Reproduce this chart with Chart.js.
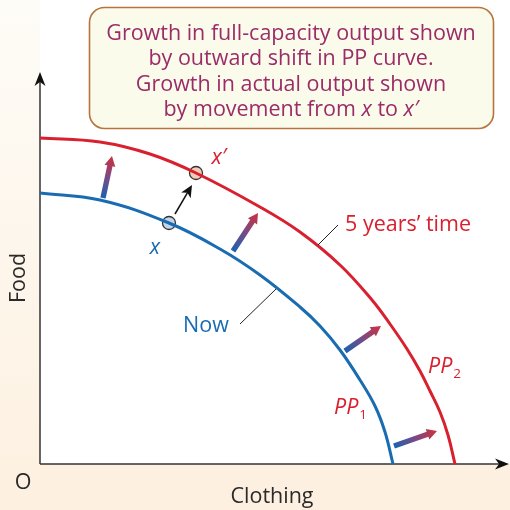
<!DOCTYPE html>
<html><head><meta charset="utf-8">
<script src="https://cdn.jsdelivr.net/npm/chart.js@4"></script>
<style>html,body{margin:0;padding:0;background:#fff}#wrap{width:510px;height:510px;position:relative}</style>
</head><body><div id="wrap"><canvas id="c" width="510" height="510"></canvas></div>
<script>
// ---- data (units: arbitrary quantity of clothing / food) ----
const pp1Clothing = [0, 60, 129, 180, 220, 260, 280, 300, 320, 335, 345, 353];
const pp1Food     = [271, 264, 241, 215, 189, 157, 138, 114, 84, 58, 32, 0];
const pp2Clothing = [0, 60, 110, 156, 220, 260, 300, 332, 350, 367, 380, 390, 400, 408, 415];
const pp2Food     = [326, 322, 310, 291, 257, 232, 199, 164, 140, 115, 93, 73, 52, 29, 0];
const pointNames    = ["x", "x′"];
const pointClothing = [129, 156];
const pointFood     = [241, 291];
const shiftFromClothing = [63, 193, 305, 354];
const shiftFromFood     = [266, 213, 113, 18];
const shiftToClothing   = [72, 218, 341, 397];
const shiftToFood       = [308, 251, 138, 33];
const moveFrom = [135, 250];
const moveTo   = [152, 279];
const axisTitles = ["Clothing", "Food", "O"];
const curveNames = ["Now", "5 years’ time", "PP", "1", "2"];
const boxLines = ["Growth in full-capacity output shown", "by outward shift in PP curve.", "Growth in actual output shown"];
const boxLastLine = [["by movement from ", false], ["x", true], [" to ", false], ["x′", true]];

const BLUE = "#1a6cb2", RED = "#d9202e", MAROON = "#9b2c68", DARK = "#2a2a2a";
const FONT = "'Open Sans', 'Noto Sans', sans-serif";
const FS = "21.5px ";

function pts(xs, ys){ return xs.map((x,i)=>({x:x, y:ys[i]})); }

function gradArrow(ctx, x1, y1, x2, y2){
  const dx = x2-x1, dy = y2-y1, L = Math.hypot(dx,dy), a = Math.atan2(dy,dx);
  const hl = 10, hw = 5.5, sw = 2.7;
  const g = ctx.createLinearGradient(x1,y1,x2,y2);
  g.addColorStop(0, "#1a62ae"); g.addColorStop(0.5, "#7a4a86"); g.addColorStop(1, "#d0303b");
  ctx.save(); ctx.translate(x1,y1); ctx.rotate(a);
  ctx.beginPath();
  ctx.moveTo(0,-sw); ctx.lineTo(L-hl,-sw); ctx.lineTo(L-hl,-hw); ctx.lineTo(L,0);
  ctx.lineTo(L-hl,hw); ctx.lineTo(L-hl,sw); ctx.lineTo(0,sw); ctx.closePath();
  ctx.restore();
  ctx.fillStyle = g; ctx.fill();
}
function blackArrow(ctx, x1,y1,x2,y2){
  const a = Math.atan2(y2-y1,x2-x1), L = Math.hypot(x2-x1,y2-y1);
  ctx.save(); ctx.translate(x1,y1); ctx.rotate(a);
  ctx.strokeStyle = "#111"; ctx.lineWidth = 1.5;
  ctx.beginPath(); ctx.moveTo(0,0); ctx.lineTo(L-8,0); ctx.stroke();
  ctx.fillStyle = "#111";
  ctx.beginPath(); ctx.moveTo(L,0); ctx.lineTo(L-12,-5.5); ctx.lineTo(L-9,0); ctx.lineTo(L-12,5.5); ctx.closePath(); ctx.fill();
  ctx.restore();
}

const deco = {
  id: "deco",
  beforeDraw(chart){
    const ctx = chart.ctx, a = chart.chartArea;
    ctx.save();
    ctx.fillStyle = "#ffffff"; ctx.fillRect(0,0,510,510);
    const g = ctx.createLinearGradient(0,0,0,510);
    g.addColorStop(0,"#fefcf7"); g.addColorStop(1,"#fdf0e0");
    ctx.fillStyle = g; ctx.fillRect(0,0,a.left,510);
    ctx.fillStyle = "#fdf0e0"; ctx.fillRect(a.left,a.bottom,510-a.left,510-a.bottom);
    ctx.restore();
  },
  beforeDatasetsDraw(chart){
    const ctx = chart.ctx, a = chart.chartArea, xs = chart.scales.x, ys = chart.scales.y;
    ctx.save();
    ctx.strokeStyle = "#333"; ctx.lineWidth = 1.5;
    ctx.beginPath(); ctx.moveTo(a.left, a.bottom); ctx.lineTo(a.left, a.top+8); ctx.stroke();
    ctx.beginPath(); ctx.moveTo(a.left, a.bottom); ctx.lineTo(a.right-6, a.bottom); ctx.stroke();
    ctx.fillStyle = "#111";
    ctx.beginPath(); ctx.moveTo(a.left, a.top); ctx.lineTo(a.left-5.5, a.top+14); ctx.lineTo(a.left, a.top+10); ctx.lineTo(a.left+5.5, a.top+14); ctx.closePath(); ctx.fill();
    ctx.beginPath(); ctx.moveTo(a.right+1, a.bottom); ctx.lineTo(a.right-13, a.bottom-5.5); ctx.lineTo(a.right-9, a.bottom); ctx.lineTo(a.right-13, a.bottom+5.5); ctx.closePath(); ctx.fill();
    for (let i=0;i<shiftFromClothing.length;i++){
      gradArrow(ctx, xs.getPixelForValue(shiftFromClothing[i]), ys.getPixelForValue(shiftFromFood[i]),
                     xs.getPixelForValue(shiftToClothing[i]), ys.getPixelForValue(shiftToFood[i]));
    }
    blackArrow(ctx, xs.getPixelForValue(moveFrom[0]), ys.getPixelForValue(moveFrom[1]),
                    xs.getPixelForValue(moveTo[0]), ys.getPixelForValue(moveTo[1]));
    ctx.restore();
  },
  afterDraw(chart){
    const ctx = chart.ctx;
    ctx.save();
    ctx.beginPath(); ctx.roundRect(89.5, 7.5, 404, 121, 15);
    ctx.fillStyle = "#fbfbec"; ctx.fill();
    ctx.strokeStyle = "#b8743f"; ctx.lineWidth = 1.6; ctx.stroke();
    ctx.textAlign = "center"; ctx.textBaseline = "middle";
    ctx.fillStyle = MAROON; ctx.font = FS + FONT;
    const cx = 291, ly = [33.5, 59, 84.5, 110];
    boxLines.forEach((t,i)=> ctx.fillText(t, cx, ly[i]));
    ctx.textAlign = "left";
    let tw = 0;
    boxLastLine.forEach(([t,it])=>{ ctx.font = (it?"italic ":"") + FS + FONT; tw += ctx.measureText(t).width; });
    let sx = cx - tw/2;
    boxLastLine.forEach(([t,it])=>{ ctx.font = (it?"italic ":"") + FS + FONT; ctx.fillText(t, sx, ly[3]); sx += ctx.measureText(t).width; });
    ctx.fillStyle = DARK; ctx.font = FS + FONT; ctx.textAlign = "center";
    ctx.fillText(axisTitles[0], 272, 497);
    ctx.fillText(axisTitles[2], 23, 483);
    ctx.save(); ctx.translate(19, 278); ctx.rotate(-Math.PI/2); ctx.fillText(axisTitles[1], 0, 0); ctx.restore();
    ctx.strokeStyle = "#222"; ctx.lineWidth = 1;
    ctx.beginPath(); ctx.moveTo(240,324); ctx.lineTo(276,289); ctx.stroke();
    ctx.beginPath(); ctx.moveTo(318,245); ctx.lineTo(338,225); ctx.stroke();
    ctx.fillStyle = BLUE; ctx.font = FS + FONT; ctx.textAlign = "center";
    ctx.fillText(curveNames[0], 206, 326);
    ctx.fillStyle = RED; ctx.textAlign = "left";
    ctx.fillText(curveNames[1], 345, 225);
    ctx.font = "italic " + FS + FONT; ctx.textAlign = "center";
    ctx.fillStyle = BLUE; ctx.fillText(pointNames[0], 155, 248);
    ctx.fillStyle = RED; ctx.fillText(pointNames[1], 219, 158);
    ctx.textAlign = "left"; ctx.textBaseline = "alphabetic";
    ctx.fillStyle = RED;
    ctx.font = "italic " + FS + FONT; ctx.fillText(curveNames[2], 334, 414);
    let w = ctx.measureText(curveNames[2]).width;
    ctx.font = "13.5px " + FONT; ctx.fillText(curveNames[3], 334 + w + 1, 419);
    ctx.font = "italic " + FS + FONT; ctx.fillText(curveNames[2], 428, 373);
    w = ctx.measureText(curveNames[2]).width;
    ctx.font = "13.5px " + FONT; ctx.fillText(curveNames[4], 428 + w + 1, 378);
    ctx.restore();
  }
};

new Chart(document.getElementById("c"), {
  type: "scatter",
  data: {
    datasets: [
      { data: pts(pp1Clothing, pp1Food), showLine: true, borderColor: BLUE, borderWidth: 3, pointRadius: 0, tension: 0.4, fill: false, clip: false },
      { data: pts(pp2Clothing, pp2Food), showLine: true, borderColor: RED, borderWidth: 3, pointRadius: 0, tension: 0.4, fill: false, clip: false },
      { data: pts(pointClothing, pointFood), showLine: false, pointRadius: 6.5, pointBackgroundColor: ["#c4d4ec", "#f5cbb8"], pointBorderColor: "#333", pointBorderWidth: 1.3, clip: false }
    ]
  },
  options: {
    responsive: false, animation: false, devicePixelRatio: 1,
    layout: { autoPadding: false, padding: { left: 40, right: 2, top: 72, bottom: 46 } },
    scales: {
      x: { type: "linear", min: 0, max: 468, display: false },
      y: { type: "linear", min: 0, max: 392, display: false }
    },
    plugins: { legend: { display: false }, tooltip: { enabled: false } },
    events: []
  },
  plugins: [deco]
});
</script>
</body></html>
